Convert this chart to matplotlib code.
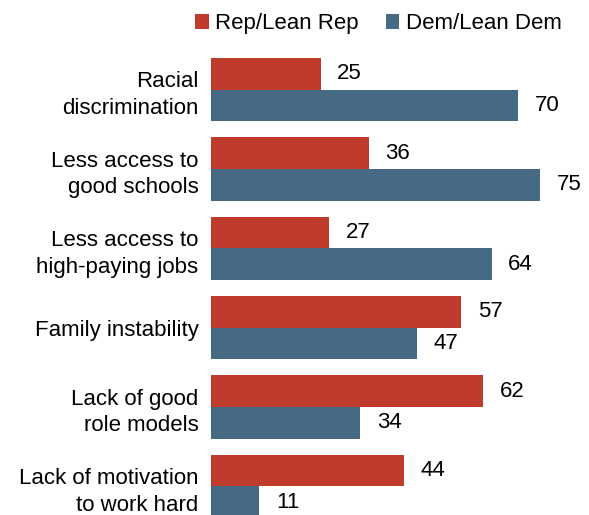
import matplotlib.pyplot as plt
import numpy as np

plt.rcParams["font.family"] = ["Liberation Sans", "DejaVu Sans"]

categories = [
    "Racial\ndiscrimination",
    "Less access to\ngood schools",
    "Less access to\nhigh-paying jobs",
    "Family instability",
    "Lack of good\nrole models",
    "Lack of motivation\nto work hard",
]
rep_values = [25, 36, 27, 57, 62, 44]
dem_values = [70, 75, 64, 47, 34, 11]

RED = "#BF3B2B"
BLUE = "#466A84"
FS = 16


def main():
    fig = plt.figure(figsize=(5.89, 5.15), dpi=100)
    ax = fig.add_axes([211 / 589, 0, 378 / 589, 457 / 515])

    y = np.arange(len(categories))
    h = 0.4
    ax.barh(y - h / 2, rep_values, height=h, color=RED, label="Rep/Lean Rep")
    ax.barh(y + h / 2, dem_values, height=h, color=BLUE, label="Dem/Lean Dem")

    # labels sit ~17px past the bar end
    for yi, v in zip(y, rep_values):
        ax.annotate(str(v), (v, yi - h / 2), xytext=(12, 0), textcoords="offset points",
                    ha="left", va="center", fontsize=FS)
    for yi, v in zip(y, dem_values):
        ax.annotate(str(v), (v, yi + h / 2), xytext=(12, 0), textcoords="offset points",
                    ha="left", va="center", fontsize=FS)

    ax.set_xlim(0, 86.2)
    ax.set_ylim(5.36, -0.4)
    ax.set_yticks(y)
    ax.set_yticklabels(categories, fontsize=FS, linespacing=1.35)
    ax.tick_params(axis="y", length=0, pad=9)
    ax.set_xticks([])
    for s in ax.spines.values():
        s.set_visible(False)

    fig.legend(loc="upper left", bbox_to_anchor=(182 / 589, 1.0), ncol=2, frameon=False,
               fontsize=FS, handlelength=0.6, handleheight=0.6, handletextpad=0.3,
               columnspacing=1.2, borderaxespad=0.2)

    fig.savefig("out.png", dpi=100)
    plt.close(fig)


if __name__ == "__main__":
    main()
